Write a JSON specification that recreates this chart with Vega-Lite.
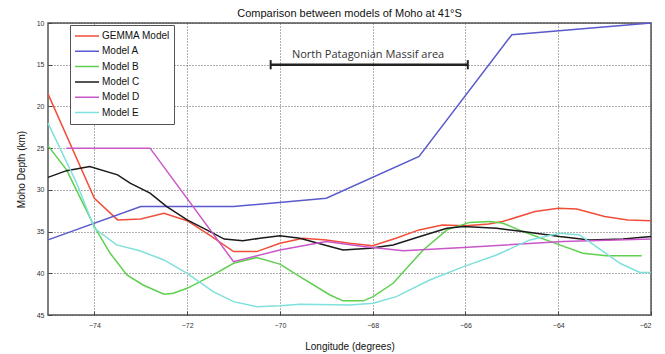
{
  "$schema": "https://vega.github.io/schema/vega-lite/v6.json",
  "width": 603,
  "height": 292,
  "autosize": {"type": "none"},
  "padding": {"left": 48, "top": 23, "right": 14, "bottom": 39},
  "background": "white",
  "config": {
    "font": "Liberation Sans",
    "view": {"stroke": "#555555", "strokeWidth": 1.5},
    "axis": {
      "domain": false,
      "grid": true,
      "gridColor": "#444444",
      "gridDash": [1, 2],
      "gridWidth": 1,
      "gridOpacity": 0.85,
      "ticks": true,
      "tickSize": -4,
      "tickColor": "#444444",
      "labelFontSize": 7,
      "labelColor": "#333333",
      "titleFontSize": 10,
      "titleFontWeight": "normal",
      "titleColor": "#111111"
    }
  },
  "title": {
    "text": "Comparison between models of Moho at 41°S",
    "fontSize": 11,
    "fontWeight": "normal",
    "color": "#111111",
    "frame": "group",
    "offset": 0
  },
  "datasets": {
    "lines": [
      {"m": "GEMMA Model", "x": -75, "y": 18.5},
      {"m": "GEMMA Model", "x": -74, "y": 31.0},
      {"m": "GEMMA Model", "x": -73.5, "y": 33.6},
      {"m": "GEMMA Model", "x": -73, "y": 33.5},
      {"m": "GEMMA Model", "x": -72.5, "y": 32.8},
      {"m": "GEMMA Model", "x": -72, "y": 33.7},
      {"m": "GEMMA Model", "x": -71.5, "y": 35.5},
      {"m": "GEMMA Model", "x": -71, "y": 37.4},
      {"m": "GEMMA Model", "x": -70.5, "y": 37.4},
      {"m": "GEMMA Model", "x": -70, "y": 36.4},
      {"m": "GEMMA Model", "x": -69.5, "y": 35.8},
      {"m": "GEMMA Model", "x": -69, "y": 36.0},
      {"m": "GEMMA Model", "x": -68.5, "y": 36.4},
      {"m": "GEMMA Model", "x": -68, "y": 36.7},
      {"m": "GEMMA Model", "x": -67.5, "y": 35.8},
      {"m": "GEMMA Model", "x": -67, "y": 34.8},
      {"m": "GEMMA Model", "x": -66.5, "y": 34.2},
      {"m": "GEMMA Model", "x": -66, "y": 34.3},
      {"m": "GEMMA Model", "x": -65.5, "y": 34.1},
      {"m": "GEMMA Model", "x": -65.2, "y": 33.8},
      {"m": "GEMMA Model", "x": -64.5, "y": 32.6},
      {"m": "GEMMA Model", "x": -64, "y": 32.2},
      {"m": "GEMMA Model", "x": -63.6, "y": 32.3},
      {"m": "GEMMA Model", "x": -63, "y": 33.2},
      {"m": "GEMMA Model", "x": -62.5, "y": 33.6},
      {"m": "GEMMA Model", "x": -62, "y": 33.7},
      {"m": "Model A", "x": -75, "y": 36.0},
      {"m": "Model A", "x": -73, "y": 32.0},
      {"m": "Model A", "x": -71, "y": 32.0},
      {"m": "Model A", "x": -69, "y": 31.0},
      {"m": "Model A", "x": -67, "y": 26.0},
      {"m": "Model A", "x": -65, "y": 11.4},
      {"m": "Model A", "x": -62, "y": 10.0},
      {"m": "Model B", "x": -75, "y": 24.7},
      {"m": "Model B", "x": -74.6, "y": 27.6},
      {"m": "Model B", "x": -74, "y": 34.4},
      {"m": "Model B", "x": -73.66, "y": 37.6},
      {"m": "Model B", "x": -73.3, "y": 40.2},
      {"m": "Model B", "x": -72.95, "y": 41.4},
      {"m": "Model B", "x": -72.5, "y": 42.5},
      {"m": "Model B", "x": -72.3, "y": 42.4},
      {"m": "Model B", "x": -72, "y": 41.8},
      {"m": "Model B", "x": -71.44, "y": 40.2},
      {"m": "Model B", "x": -71, "y": 38.8},
      {"m": "Model B", "x": -70.5, "y": 38.1},
      {"m": "Model B", "x": -70, "y": 38.9},
      {"m": "Model B", "x": -69.57, "y": 40.4},
      {"m": "Model B", "x": -68.92, "y": 42.6},
      {"m": "Model B", "x": -68.64, "y": 43.3},
      {"m": "Model B", "x": -68.2, "y": 43.3},
      {"m": "Model B", "x": -67.99, "y": 42.8},
      {"m": "Model B", "x": -67.56, "y": 41.2},
      {"m": "Model B", "x": -66.91, "y": 37.2},
      {"m": "Model B", "x": -66.4, "y": 34.8},
      {"m": "Model B", "x": -65.91, "y": 33.9},
      {"m": "Model B", "x": -65.47, "y": 33.8},
      {"m": "Model B", "x": -65.19, "y": 34.0},
      {"m": "Model B", "x": -64.76, "y": 35.0},
      {"m": "Model B", "x": -63.97, "y": 36.6},
      {"m": "Model B", "x": -63.47, "y": 37.6},
      {"m": "Model B", "x": -62.96, "y": 37.9},
      {"m": "Model B", "x": -62.2, "y": 37.9},
      {"m": "Model C", "x": -75, "y": 28.5},
      {"m": "Model C", "x": -74.6, "y": 27.7},
      {"m": "Model C", "x": -74.1, "y": 27.2},
      {"m": "Model C", "x": -73.5, "y": 28.2},
      {"m": "Model C", "x": -73.23, "y": 29.2},
      {"m": "Model C", "x": -72.8, "y": 30.4},
      {"m": "Model C", "x": -72.44, "y": 32.0},
      {"m": "Model C", "x": -72, "y": 33.6},
      {"m": "Model C", "x": -71.58, "y": 34.8},
      {"m": "Model C", "x": -71.2, "y": 35.9},
      {"m": "Model C", "x": -70.8, "y": 36.1},
      {"m": "Model C", "x": -70.43, "y": 35.8},
      {"m": "Model C", "x": -70, "y": 35.5},
      {"m": "Model C", "x": -69.57, "y": 35.8},
      {"m": "Model C", "x": -68.92, "y": 36.8},
      {"m": "Model C", "x": -68.64, "y": 37.2},
      {"m": "Model C", "x": -68.06, "y": 37.0},
      {"m": "Model C", "x": -67.56, "y": 36.6},
      {"m": "Model C", "x": -66.98, "y": 35.6},
      {"m": "Model C", "x": -66.4, "y": 34.6},
      {"m": "Model C", "x": -66.04, "y": 34.4},
      {"m": "Model C", "x": -65.33, "y": 34.6},
      {"m": "Model C", "x": -64.76, "y": 35.0},
      {"m": "Model C", "x": -63.97, "y": 35.6},
      {"m": "Model C", "x": -63.32, "y": 36.0},
      {"m": "Model C", "x": -62.6, "y": 35.9},
      {"m": "Model C", "x": -62, "y": 35.6},
      {"m": "Model D", "x": -74.6, "y": 25.0},
      {"m": "Model D", "x": -72.8, "y": 25.0},
      {"m": "Model D", "x": -71, "y": 38.6},
      {"m": "Model D", "x": -70, "y": 37.2},
      {"m": "Model D", "x": -69, "y": 36.2},
      {"m": "Model D", "x": -68.2, "y": 36.8},
      {"m": "Model D", "x": -67.34, "y": 37.3},
      {"m": "Model D", "x": -66.04, "y": 36.9},
      {"m": "Model D", "x": -63.9, "y": 36.2},
      {"m": "Model D", "x": -62, "y": 35.9},
      {"m": "Model E", "x": -75, "y": 22.0},
      {"m": "Model E", "x": -74.38, "y": 29.2},
      {"m": "Model E", "x": -74, "y": 34.6},
      {"m": "Model E", "x": -73.52, "y": 36.6},
      {"m": "Model E", "x": -73.02, "y": 37.3},
      {"m": "Model E", "x": -72.5, "y": 38.4},
      {"m": "Model E", "x": -72, "y": 40.0},
      {"m": "Model E", "x": -71.44, "y": 42.2},
      {"m": "Model E", "x": -71, "y": 43.4},
      {"m": "Model E", "x": -70.5, "y": 44.0},
      {"m": "Model E", "x": -70, "y": 43.9},
      {"m": "Model E", "x": -69.57, "y": 43.7},
      {"m": "Model E", "x": -68.5, "y": 43.8},
      {"m": "Model E", "x": -67.99, "y": 43.6},
      {"m": "Model E", "x": -67.49, "y": 42.8},
      {"m": "Model E", "x": -66.77, "y": 40.8},
      {"m": "Model E", "x": -66.04, "y": 39.2},
      {"m": "Model E", "x": -65.33, "y": 37.8},
      {"m": "Model E", "x": -64.61, "y": 36.0},
      {"m": "Model E", "x": -63.97, "y": 35.2},
      {"m": "Model E", "x": -63.54, "y": 35.4},
      {"m": "Model E", "x": -63.18, "y": 36.8},
      {"m": "Model E", "x": -62.67, "y": 38.8},
      {"m": "Model E", "x": -62.24, "y": 39.9},
      {"m": "Model E", "x": -62, "y": 39.9}
    ],
    "bar": [
      {"x": -70.2, "x2": -65.95, "y": 15.0}
    ],
    "caps": [
      {"x": -70.2, "y": 14.45, "y2": 15.55},
      {"x": -65.95, "y": 14.45, "y2": 15.55}
    ],
    "label": [
      {"x": -68.1, "y": 13.8, "t": "North Patagonian Massif area"}
    ]
  },
  "layer": [
    {
      "data": {"name": "lines"},
      "mark": {"type": "line", "strokeWidth": 1.5},
      "encoding": {
        "x": {
          "field": "x", "type": "quantitative",
          "scale": {"domain": [-75, -62], "nice": false, "zero": false},
          "axis": {"values": [-74, -72, -70, -68, -66, -64, -62], "title": "Longitude (degrees)", "labelPadding": 10, "titlePadding": 13}
        },
        "y": {
          "field": "y", "type": "quantitative",
          "scale": {"domain": [10, 45], "reverse": true, "nice": false, "zero": false},
          "axis": {"values": [10, 15, 20, 25, 30, 35, 40, 45], "title": "Moho Depth (km)", "labelPadding": 8, "titlePadding": 10}
        },
        "color": {
          "field": "m", "type": "nominal",
          "scale": {
            "domain": ["GEMMA Model", "Model A", "Model B", "Model C", "Model D", "Model E"],
            "range": ["#f24d3a", "#5a5acd", "#5fcf4f", "#1a1a1a", "#c957c9", "#7fe0dc"]
          },
          "legend": {
            "title": null,
            "orient": "none",
            "legendX": 22,
            "legendY": 2,
            "symbolType": "stroke",
            "symbolSize": 576,
            "symbolStrokeWidth": 1.5,
            "clipHeight": 14,
            "labelFontSize": 10,
            "labelOffset": 2,
            "labelColor": "#111111",
            "rowPadding": 1.3,
            "padding": 4,
            "strokeColor": "#555555",
            "fillColor": "white"
          }
        }
      }
    },
    {
      "data": {"name": "bar"},
      "mark": {"type": "rule", "color": "#222222", "strokeWidth": 2.5},
      "encoding": {
        "x": {"field": "x", "type": "quantitative"},
        "x2": {"field": "x2"},
        "y": {"field": "y", "type": "quantitative"}
      }
    },
    {
      "data": {"name": "caps"},
      "mark": {"type": "rule", "color": "#222222", "strokeWidth": 2},
      "encoding": {
        "x": {"field": "x", "type": "quantitative"},
        "y": {"field": "y", "type": "quantitative"},
        "y2": {"field": "y2"}
      }
    },
    {
      "data": {"name": "label"},
      "mark": {"type": "text", "fontSize": 11, "color": "#333333", "font": "Open Sans"},
      "encoding": {
        "x": {"field": "x", "type": "quantitative"},
        "y": {"field": "y", "type": "quantitative"},
        "text": {"field": "t"}
      }
    }
  ]
}
